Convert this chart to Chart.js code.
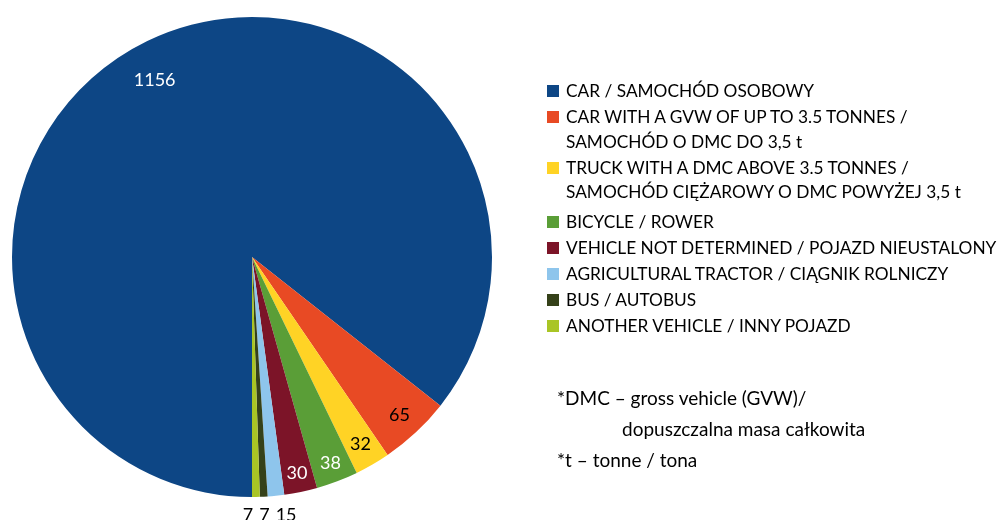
<!DOCTYPE html>
<html>
<head>
<meta charset="utf-8">
<script src="https://cdn.jsdelivr.net/npm/chart.js@4.4.1/dist/chart.umd.min.js"></script>
<style>
    html, body { margin: 0; padding: 0; background: #fff; }
    #wrap { position: relative; width: 1001px; height: 520px; overflow: hidden; font-family: Lato, "Open Sans", sans-serif; color: #000; }
    #wrap canvas { position: absolute; left: 0; top: 0; }
    #legend { position: absolute; left: 547px; top: 79px; display: flex; flex-direction: column; gap: 1.5px; font-size: 17.3px; line-height: 24.5px; }
    .legend-item { position: relative; padding-left: 19px; white-space: nowrap; }
    .legend-item .box { position: absolute; left: 0; top: 6px; width: 12px; height: 12px; }
    .legend-item.gap-after { margin-bottom: 4px; }
    #notes { position: absolute; left: 557px; top: 382px; font-size: 19px; line-height: 31px; white-space: nowrap; }
    #notes .indent { padding-left: 65px; }
</style>
</head>
<body>
<div id="wrap">
    <canvas id="pieCanvas" width="1001" height="520"></canvas>
    <div id="legend"></div>
    <div id="notes">
        <div>*DMC – gross vehicle (GVW)/</div>
        <div class="indent">dopuszczalna masa całkowita</div>
        <div>*t – tonne / tona</div>
    </div>
</div>
<script>
// Pojazdy sprawców – liczba zdarzeń
const categories = [
    ['CAR / SAMOCHÓD OSOBOWY'],
    ['CAR WITH A GVW OF UP TO 3.5 TONNES /', 'SAMOCHÓD O DMC DO 3,5 t'],
    ['TRUCK WITH A DMC ABOVE 3.5 TONNES /', 'SAMOCHÓD CIĘŻAROWY O DMC POWYŻEJ 3,5 t'],
    ['BICYCLE / ROWER'],
    ['VEHICLE NOT DETERMINED / POJAZD NIEUSTALONY'],
    ['AGRICULTURAL TRACTOR / CIĄGNIK ROLNICZY'],
    ['BUS / AUTOBUS'],
    ['ANOTHER VEHICLE / INNY POJAZD']
];
const counts = [1156, 65, 32, 38, 30, 15, 7, 7];
const colors = ['#0D4685', '#E84A24', '#FFD325', '#5A9E37', '#7C1428', '#8EC5EC', '#354119', '#A9C525'];
const labelColors = ['#fff', '#000', '#000', '#fff', '#fff', '#000', '#000', '#000'];

// legenda w HTML (etykiety dwuwierszowe)
const legendEl = document.getElementById('legend');
categories.forEach((lines, i) => {
    const item = document.createElement('div');
    item.className = 'legend-item' + (i === 2 ? ' gap-after' : '');
    item.innerHTML = `<span class="box" style="background:${colors[i]}"></span>` + lines.map(l => `<div>${l}</div>`).join('');
    legendEl.appendChild(item);
});

const valueLabels = {
    id: 'valueLabels',
    afterDatasetsDraw(chart) {
        const ctx = chart.ctx;
        const arcs = chart.getDatasetMeta(0).data;
        const ds = chart.data.datasets[0];
        ctx.save();
        ctx.font = '18px Lato, "Open Sans", sans-serif';
        ctx.textAlign = 'center';
        ctx.textBaseline = 'middle';

        const outside = [];
        arcs.forEach((arc, i) => {
            const { x, y, startAngle, endAngle, outerRadius } = arc.getProps(['x', 'y', 'startAngle', 'endAngle', 'outerRadius'], true);
            let mid = (startAngle + endAngle) / 2;
            const value = ds.data[i];
            if (value >= 20) {
                // duży wycinek: etykieta trochę bliżej lewej krawędzi
                if (i === 0) mid -= 3 * Math.PI / 180;
                const f = i === 0 ? 0.84 : (i < 3 ? 0.9 : 0.92);
                ctx.fillStyle = labelColors[i];
                ctx.fillText(String(value), x + Math.cos(mid) * outerRadius * f, y + Math.sin(mid) * outerRadius * f);
            } else {
                const r = outerRadius * 1.075;
                outside.push({ text: String(value), x: x + Math.cos(mid) * r, y: y + Math.sin(mid) * r, w: ctx.measureText(String(value)).width });
            }
        });

        // małe wycinki: etykiety pod wykresem, rozsunięte i wyśrodkowane
        if (outside.length) {
            const meanBefore = outside.reduce((s, o) => s + o.x, 0) / outside.length;
            outside.sort((a, b) => b.x - a.x);
            for (let k = 1; k < outside.length; k++) {
                const prev = outside[k - 1], cur = outside[k];
                const maxX = prev.x - prev.w / 2 - 6 - cur.w / 2;
                if (cur.x > maxX) cur.x = maxX;
            }
            const meanAfter = outside.reduce((s, o) => s + o.x, 0) / outside.length;
            const shift = meanBefore - meanAfter;
            const baseY = Math.max(...outside.map(o => o.y));
            ctx.fillStyle = '#000';
            outside.forEach(o => ctx.fillText(o.text, o.x + shift, baseY));
        }
        ctx.restore();
    }
};

new Chart(document.getElementById('pieCanvas'), {
    type: 'pie',
    data: {
        labels: categories.map(c => c.join(' ')),
        datasets: [{
            data: counts,
            backgroundColor: colors,
            borderWidth: 0
        }]
    },
    options: {
        responsive: false,
        animation: false,
        rotation: 180,
        layout: { padding: { left: 12, top: 17, right: 509, bottom: 23 } },
        plugins: {
            legend: { display: false },
            tooltip: { enabled: false }
        }
    },
    plugins: [valueLabels]
});
</script>
</body>
</html>
